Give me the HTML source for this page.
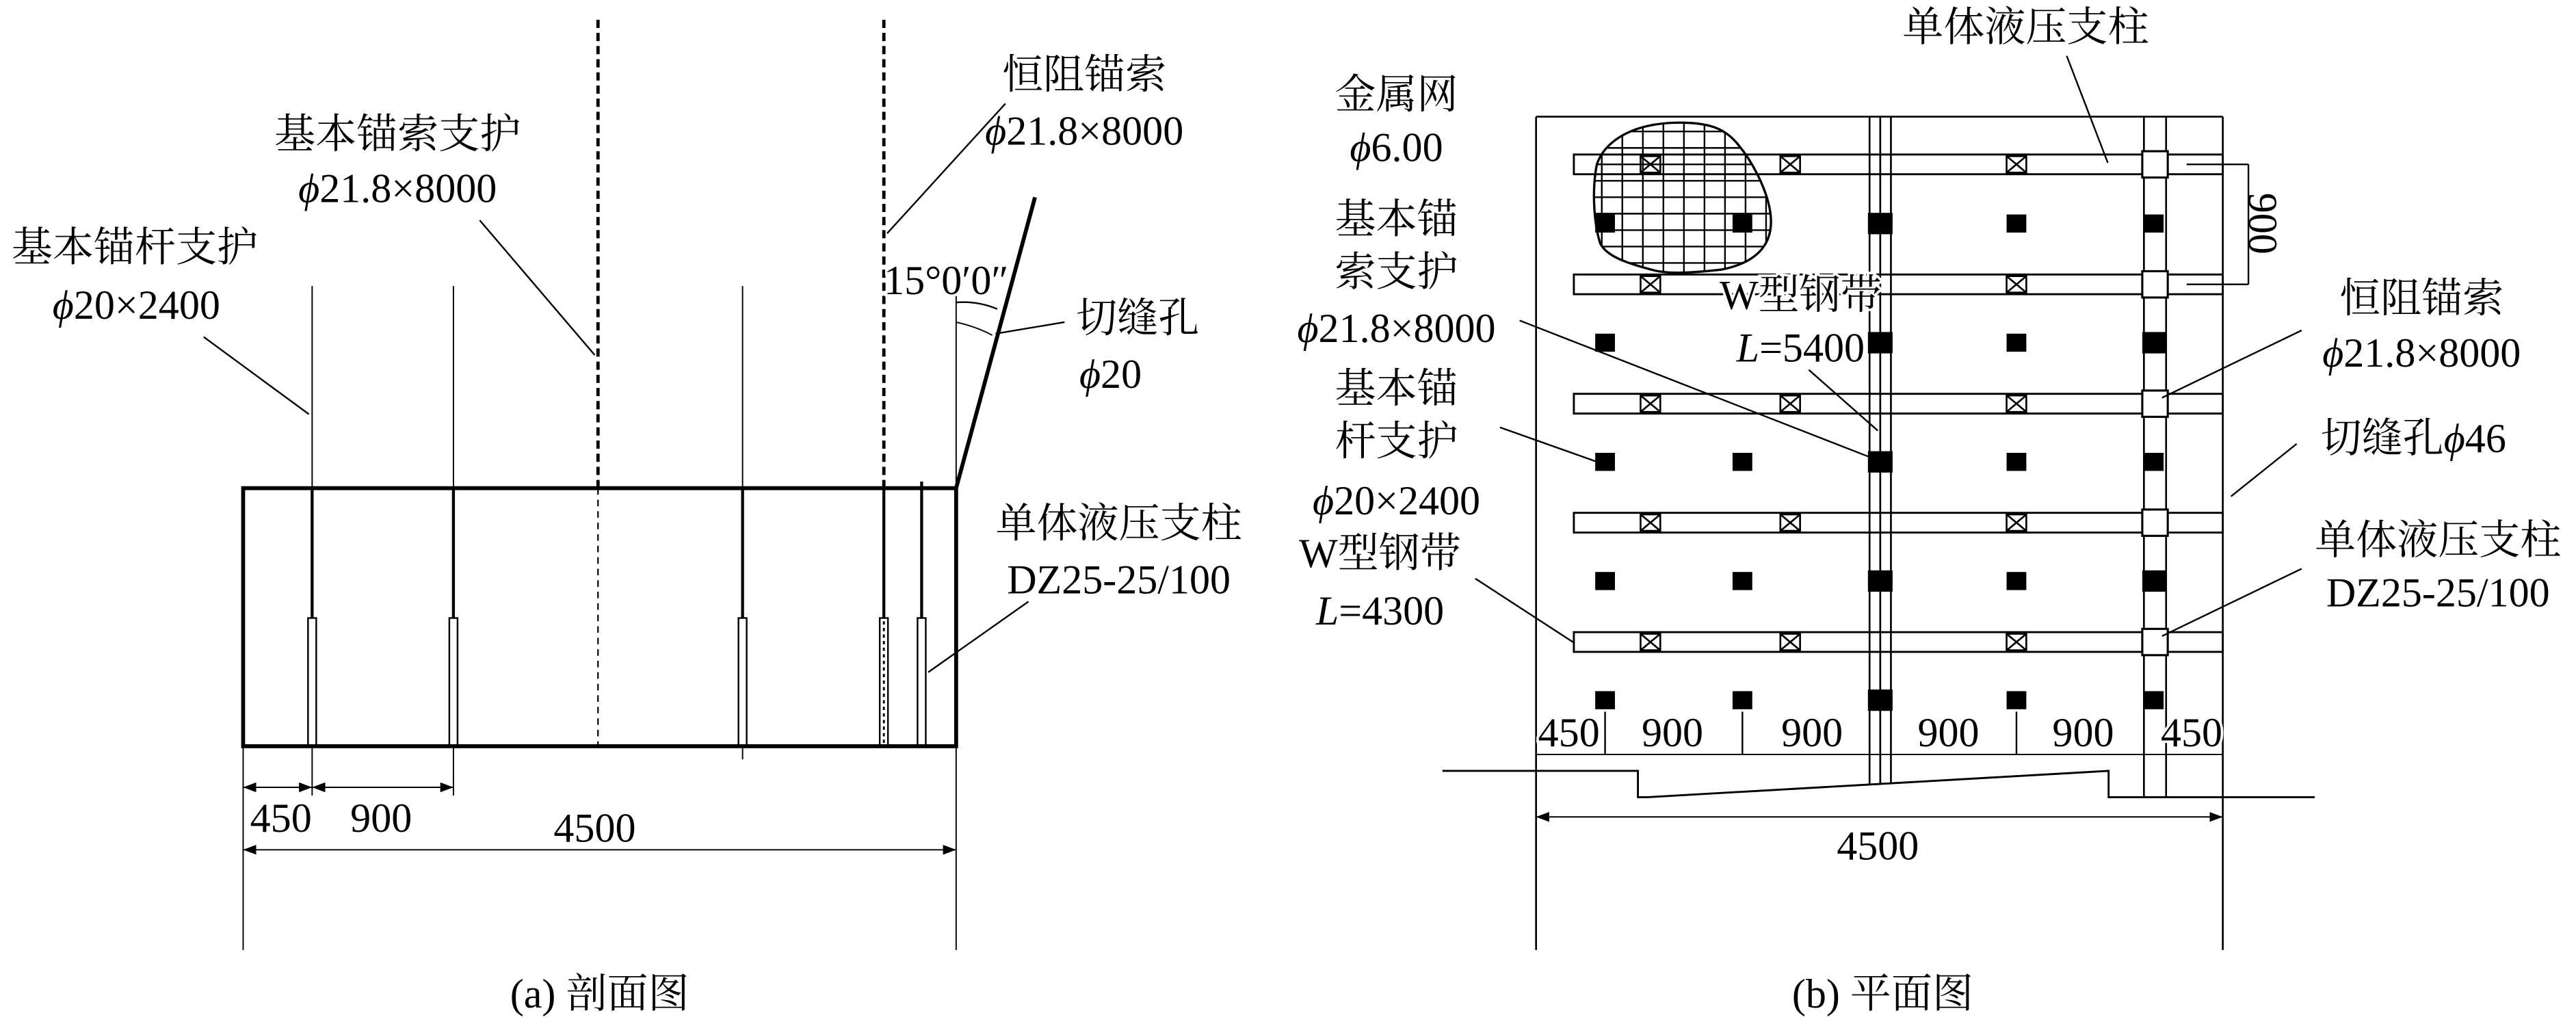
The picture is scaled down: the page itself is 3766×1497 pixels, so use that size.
<!DOCTYPE html>
<html><head><meta charset="utf-8"><style>
html,body{margin:0;padding:0;background:#fff;}
svg{display:block;}
text{font-family:"Liberation Serif","Noto Serif CJK SC","Noto Sans CJK SC",serif;font-size:25px;fill:#000;}
</style></head><body>
<svg width="3766" height="1497" viewBox="0 0 1568 623" preserveAspectRatio="none" xmlns="http://www.w3.org/2000/svg">
<defs>
<marker id="ar" markerWidth="8" markerHeight="6" refX="8" refY="3" orient="auto" markerUnits="userSpaceOnUse"><path d="M0,0 L8,3 L0,6 Z" fill="#000"/></marker>
<marker id="al" markerWidth="8" markerHeight="6" refX="0" refY="3" orient="auto" markerUnits="userSpaceOnUse"><path d="M8,0 L0,3 L8,6 Z" fill="#000"/></marker>
<clipPath id="blob"><path d="M1018,74.7 C1040,74 1050,78 1058,88 C1068,100 1078,120 1078,135 C1078,150 1068,160 1048,164 C1030,166 1015,167 1005,164 C990,160 978,156 974,148 C970,135 969,115 972,100 C976,88 990,76 1018,74.7 Z"/></clipPath>
</defs>
<g stroke="#000" fill="none">
<rect x="148" y="297" width="434" height="157" stroke-width="2.4"/>
<g stroke-width="0.8">
<line x1="190" y1="174" x2="190" y2="297"/><line x1="276" y1="174" x2="276" y2="297"/><line x1="452" y1="174" x2="452" y2="297"/>
<line x1="190" y1="454" x2="190" y2="484"/><line x1="276" y1="454" x2="276" y2="484"/><line x1="452" y1="454" x2="452" y2="462"/>
</g>
<g stroke-width="1.8">
<line x1="190" y1="297" x2="190" y2="376"/><line x1="276" y1="297" x2="276" y2="376"/><line x1="452" y1="297" x2="452" y2="376"/>
<line x1="538" y1="297" x2="538" y2="376"/><line x1="561" y1="293" x2="561" y2="376"/>
</g>
<g stroke-width="1">
<rect x="187.5" y="376" width="5" height="78"/><rect x="273.5" y="376" width="5" height="78"/><rect x="449.5" y="376" width="5" height="78"/>
<rect x="535.5" y="376" width="5" height="78"/><rect x="558.5" y="376" width="5" height="78"/>
</g>
<line x1="538" y1="378" x2="538" y2="452" stroke-width="1.2" stroke-dasharray="2,2"/>
<line x1="364" y1="12" x2="364" y2="297" stroke-width="2" stroke-dasharray="5,3"/>
<line x1="364" y1="297" x2="364" y2="454" stroke-width="0.9" stroke-dasharray="4,3"/>
<line x1="538" y1="12" x2="538" y2="297" stroke-width="2" stroke-dasharray="5,3"/>
<line x1="582" y1="297" x2="630" y2="120" stroke-width="2.4"/>
<line x1="582" y1="180" x2="582" y2="578" stroke-width="0.8"/>
<path d="M582,184 Q595,183 607,188" stroke-width="1"/>
<path d="M582,196 Q595,199 604,204" stroke-width="0.8"/>
<line x1="648" y1="196" x2="606" y2="203" stroke-width="1"/>
<g stroke-width="1">
<line x1="612" y1="63" x2="540" y2="142"/>
<line x1="292" y1="134" x2="362" y2="216"/>
<line x1="124" y1="205" x2="188" y2="252"/>
<line x1="626" y1="366" x2="565" y2="409"/>
</g>
<g stroke-width="0.8">
<line x1="148" y1="454" x2="148" y2="578"/>
<line x1="148" y1="479" x2="190" y2="479" marker-start="url(#al)" marker-end="url(#ar)"/>
<line x1="190" y1="479" x2="276" y2="479" marker-start="url(#al)" marker-end="url(#ar)"/>
<line x1="148" y1="517" x2="582" y2="517" marker-start="url(#al)" marker-end="url(#ar)"/>
</g>

<g stroke-width="1.1">
<line x1="935" y1="71" x2="1353" y2="71"/>
<line x1="935" y1="71" x2="935" y2="578"/>
<line x1="1353" y1="71" x2="1353" y2="578"/>
</g>
<g stroke-width="1.2" fill="#fff">
<rect x="958" y="94" width="395" height="12"/>
<rect x="958" y="167" width="395" height="12"/>
<rect x="958" y="239.6" width="395" height="12"/>
<rect x="958" y="312" width="395" height="12"/>
<rect x="958" y="384.6" width="395" height="12"/>
</g>
<g stroke-width="1.1">
<line x1="1138" y1="71" x2="1138" y2="477"/><line x1="1144.5" y1="71" x2="1144.5" y2="477"/><line x1="1151" y1="71" x2="1151" y2="477"/>
<line x1="1305" y1="71" x2="1305" y2="485"/><line x1="1318.5" y1="71" x2="1318.5" y2="485"/>
</g>
<g stroke-width="1.3" fill="#fff">
<rect x="1304" y="92" width="15.5" height="16"/><rect x="1304" y="165" width="15.5" height="16"/><rect x="1304" y="237.6" width="15.5" height="16"/><rect x="1304" y="310" width="15.5" height="16"/><rect x="1304" y="382.6" width="15.5" height="16"/>
</g>
<g stroke-width="1.1">
<path d="M998.6,95 h12 v10 h-12 z M998.6,95 l12,10 M1010.6,95 l-12,10"/>
<path d="M1083.7,95 h12 v10 h-12 z M1083.7,95 l12,10 M1095.7,95 l-12,10"/>
<path d="M1221.4,95 h12 v10 h-12 z M1221.4,95 l12,10 M1233.4,95 l-12,10"/>
<path d="M998.6,168 h12 v10 h-12 z M998.6,168 l12,10 M1010.6,168 l-12,10"/>
<path d="M1221.4,168 h12 v10 h-12 z M1221.4,168 l12,10 M1233.4,168 l-12,10"/>
<path d="M998.6,240.6 h12 v10 h-12 z M998.6,240.6 l12,10 M1010.6,240.6 l-12,10"/>
<path d="M1083.7,240.6 h12 v10 h-12 z M1083.7,240.6 l12,10 M1095.7,240.6 l-12,10"/>
<path d="M1221.4,240.6 h12 v10 h-12 z M1221.4,240.6 l12,10 M1233.4,240.6 l-12,10"/>
<path d="M998.6,313 h12 v10 h-12 z M998.6,313 l12,10 M1010.6,313 l-12,10"/>
<path d="M1083.7,313 h12 v10 h-12 z M1083.7,313 l12,10 M1095.7,313 l-12,10"/>
<path d="M1221.4,313 h12 v10 h-12 z M1221.4,313 l12,10 M1233.4,313 l-12,10"/>
<path d="M998.6,385.6 h12 v10 h-12 z M998.6,385.6 l12,10 M1010.6,385.6 l-12,10"/>
<path d="M1083.7,385.6 h12 v10 h-12 z M1083.7,385.6 l12,10 M1095.7,385.6 l-12,10"/>
<path d="M1221.4,385.6 h12 v10 h-12 z M1221.4,385.6 l12,10 M1233.4,385.6 l-12,10"/>
</g>
</g>
<g fill="#000">
<rect x="971" y="130.5" width="12" height="11"/><rect x="1054.6" y="130.5" width="12" height="11"/><rect x="1137" y="129.5" width="15" height="13"/><rect x="1221.4" y="130.5" width="12" height="11"/><rect x="1305" y="130.5" width="12" height="11"/>
<rect x="971" y="203" width="12" height="11"/><rect x="1137" y="202" width="15" height="13"/><rect x="1221.4" y="203" width="12" height="11"/><rect x="1304" y="202" width="15" height="13"/>
<rect x="971" y="275.5" width="12" height="11"/><rect x="1054.6" y="275.5" width="12" height="11"/><rect x="1137" y="274.5" width="15" height="13"/><rect x="1221.4" y="275.5" width="12" height="11"/><rect x="1305" y="275.5" width="12" height="11"/>
<rect x="971" y="348" width="12" height="11"/><rect x="1054.6" y="348" width="12" height="11"/><rect x="1137" y="347" width="15" height="13"/><rect x="1221.4" y="348" width="12" height="11"/><rect x="1304" y="347" width="15" height="13"/>
<rect x="971" y="420.5" width="12" height="11"/><rect x="1054.6" y="420.5" width="12" height="11"/><rect x="1137" y="419.5" width="15" height="13"/><rect x="1221.4" y="420.5" width="12" height="11"/><rect x="1305" y="420.5" width="12" height="11"/>
</g>
<g clip-path="url(#blob)" stroke="#000" stroke-width="1">
<line x1="975" y1="70" x2="975" y2="170"/><line x1="987.5" y1="70" x2="987.5" y2="170"/><line x1="1000" y1="70" x2="1000" y2="170"/><line x1="1012.5" y1="70" x2="1012.5" y2="170"/><line x1="1025" y1="70" x2="1025" y2="170"/><line x1="1037.5" y1="70" x2="1037.5" y2="170"/><line x1="1050" y1="70" x2="1050" y2="170"/><line x1="1062.5" y1="70" x2="1062.5" y2="170"/><line x1="1075" y1="70" x2="1075" y2="170"/>
<line x1="965" y1="80" x2="1085" y2="80"/><line x1="965" y1="90" x2="1085" y2="90"/><line x1="965" y1="100" x2="1085" y2="100"/><line x1="965" y1="110" x2="1085" y2="110"/><line x1="965" y1="120" x2="1085" y2="120"/><line x1="965" y1="130" x2="1085" y2="130"/><line x1="965" y1="140" x2="1085" y2="140"/><line x1="965" y1="150" x2="1085" y2="150"/><line x1="965" y1="160" x2="1085" y2="160"/>
</g>
<path d="M1018,74.7 C1040,74 1050,78 1058,88 C1068,100 1078,120 1078,135 C1078,150 1068,160 1048,164 C1030,166 1015,167 1005,164 C990,160 978,156 974,148 C970,135 969,115 972,100 C976,88 990,76 1018,74.7 Z" fill="none" stroke="#000" stroke-width="1.4"/>
<g stroke="#000" fill="none" stroke-width="1">
<line x1="1331" y1="100" x2="1368.6" y2="100"/><line x1="1331" y1="173" x2="1368.6" y2="173"/><line x1="1368.6" y1="100" x2="1368.6" y2="173"/>
<line x1="1258" y1="34" x2="1283" y2="99"/>
<line x1="1401" y1="201" x2="1316" y2="242"/>
<line x1="1398" y1="270" x2="1358" y2="302"/>
<line x1="1401" y1="346" x2="1316" y2="387"/>
<line x1="925" y1="195" x2="1143" y2="280"/>
<line x1="1101" y1="225" x2="1143" y2="262"/>
<line x1="913" y1="260" x2="975" y2="282"/>
<line x1="898" y1="352" x2="958" y2="391"/>
<line x1="935" y1="459" x2="1353" y2="459" stroke-width="0.8"/>
<line x1="977" y1="433" x2="977" y2="459"/><line x1="1060.6" y1="433" x2="1060.6" y2="459"/><line x1="1227.4" y1="433" x2="1227.4" y2="459"/>
<path d="M878,469 L997,469 L997,485 L1003,485 L1283.5,469 L1283.5,485 L1409,485" stroke-width="1.2"/>
<line x1="935" y1="497" x2="1353" y2="497" stroke-width="0.8" marker-start="url(#al)" marker-end="url(#ar)"/>
</g>
<g font-family="'Liberation Serif','Noto Serif CJK SC','Noto Sans CJK SC',serif" font-size="25">
<text x="660" y="54" text-anchor="middle">恒阻锚索</text>
<text x="660" y="88" text-anchor="middle"><tspan font-style="italic">ϕ</tspan>21.8×8000</text>
<text x="242" y="90" text-anchor="middle">基本锚索支护</text>
<text x="242" y="123" text-anchor="middle"><tspan font-style="italic">ϕ</tspan>21.8×8000</text>
<text x="82" y="159" text-anchor="middle">基本锚杆支护</text>
<text x="83" y="194" text-anchor="middle"><tspan font-style="italic">ϕ</tspan>20×2400</text>
<text x="538" y="179" font-size="22" stroke="#fff" stroke-width="3" paint-order="stroke">15°0′0″</text>
<text x="655" y="202">切缝孔</text>
<text x="657" y="236"><tspan font-style="italic">ϕ</tspan>20</text>
<text x="681" y="327" text-anchor="middle">单体液压支柱</text>
<text x="681" y="361" text-anchor="middle">DZ25-25/100</text>
<text x="171" y="506" text-anchor="middle">450</text>
<text x="232" y="506" text-anchor="middle">900</text>
<text x="362" y="512" text-anchor="middle">4500</text>
<text x="365" y="613" text-anchor="middle" font-size="24">(a) 剖面图</text>
<text x="1233" y="25" text-anchor="middle">单体液压支柱</text>
<text x="850" y="66" text-anchor="middle">金属网</text>
<text x="850" y="98" text-anchor="middle"><tspan font-style="italic">ϕ</tspan>6.00</text>
<text x="850" y="142" text-anchor="middle">基本锚</text>
<text x="850" y="174" text-anchor="middle">索支护</text>
<text x="850" y="208" text-anchor="middle"><tspan font-style="italic">ϕ</tspan>21.8×8000</text>
<text x="1096" y="188" text-anchor="middle" stroke="#fff" stroke-width="3" paint-order="stroke">W型钢带</text>
<text x="1096" y="220" text-anchor="middle" stroke="#fff" stroke-width="3" paint-order="stroke"><tspan font-style="italic">L</tspan>=5400</text>
<text x="850" y="245" text-anchor="middle">基本锚</text>
<text x="850" y="277" text-anchor="middle">杆支护</text>
<text x="850" y="313" text-anchor="middle"><tspan font-style="italic">ϕ</tspan>20×2400</text>
<text x="840" y="345" text-anchor="middle">W型钢带</text>
<text x="840" y="380" text-anchor="middle"><tspan font-style="italic">L</tspan>=4300</text>
<text x="1474" y="190" text-anchor="middle">恒阻锚索</text>
<text x="1474" y="223" text-anchor="middle"><tspan font-style="italic">ϕ</tspan>21.8×8000</text>
<text x="1469" y="275" text-anchor="middle">切缝孔<tspan font-style="italic">ϕ</tspan>46</text>
<text x="1484" y="337" text-anchor="middle">单体液压支柱</text>
<text x="1484" y="369" text-anchor="middle">DZ25-25/100</text>
<text transform="translate(1377,136) rotate(90)" text-anchor="middle" y="8">900</text>
<text x="955" y="454" text-anchor="middle" stroke="#fff" stroke-width="3" paint-order="stroke">450</text>
<text x="1018" y="454" text-anchor="middle">900</text>
<text x="1103" y="454" text-anchor="middle">900</text>
<text x="1186" y="454" text-anchor="middle">900</text>
<text x="1268" y="454" text-anchor="middle">900</text>
<text x="1334" y="454" text-anchor="middle" stroke="#fff" stroke-width="3" paint-order="stroke">450</text>
<text x="1143" y="523" text-anchor="middle">4500</text>
<text x="1146" y="613" text-anchor="middle" font-size="24">(b) 平面图</text>
</g>
</svg>
</body></html>
